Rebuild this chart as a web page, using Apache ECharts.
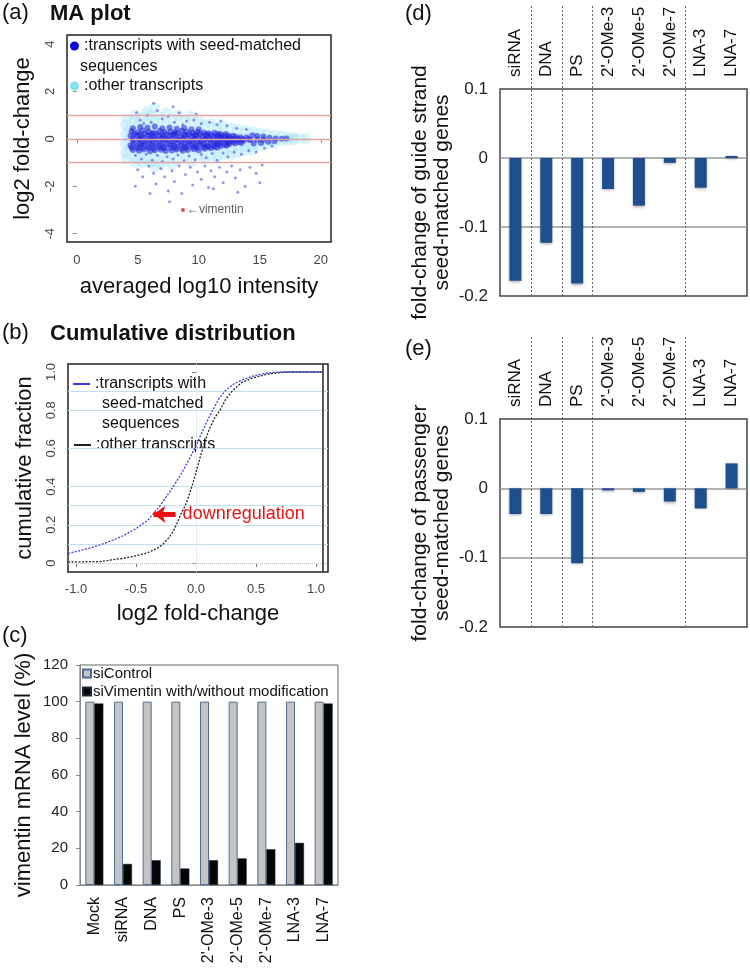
<!DOCTYPE html>
<html><head><meta charset="utf-8">
<script src="https://cdn.jsdelivr.net/npm/echarts@6/dist/echarts.min.js"></script>
<style>html,body{margin:0;padding:0;background:#fff}#c{width:750px;height:974px}</style>
</head><body><div id="c"></div>
<script>
const FONT = "'Liberation Sans', Arial, Helvetica, sans-serif";

// ---------- (a) MA plot ----------
const maOther = [
 [4.0,0.6],[4.0,0.2],[4.0,-0.2],[4.0,-0.6],[4.1,0.85],[4.1,-0.85],[4.3,0.4],[4.3,-0.4],[4.3,0.0],
 [4.7,0.8],[4.7,0.3],[4.7,-0.3],[4.7,-0.8],[4.8,1.0],[4.8,-1.0],[5.0,0.55],[5.0,-0.55],[5.0,0.05],
 [5.4,0.9],[5.4,0.4],[5.4,-0.1],[5.4,-0.6],[5.4,-1.0],[5.7,1.15],[5.7,0.65],[5.7,0.15],[5.7,-0.35],[5.7,-0.85],
 [6.1,1.0],[6.1,0.5],[6.1,0.0],[6.1,-0.5],[6.1,-1.0],[6.4,1.3],[6.4,0.75],[6.4,0.25],[6.4,-0.25],[6.4,-0.75],[6.4,-1.2],
 [6.9,0.9],[6.9,0.4],[6.9,-0.1],[6.9,-0.6],[6.9,-1.05],[7.3,1.1],[7.3,0.6],[7.3,0.1],[7.3,-0.4],[7.3,-0.9],
 [7.8,0.85],[7.8,0.35],[7.8,-0.15],[7.8,-0.65],[7.8,-1.1],[8.3,1.0],[8.3,0.55],[8.3,0.05],[8.3,-0.45],[8.3,-0.9],
 [8.9,0.8],[8.9,0.3],[8.9,-0.2],[8.9,-0.7],[9.4,0.95],[9.4,0.5],[9.4,0.0],[9.4,-0.5],[9.4,-0.95],
 [10.0,0.75],[10.0,0.25],[10.0,-0.25],[10.0,-0.7],[10.5,0.6],[10.5,0.1],[10.5,-0.4],[10.5,-0.85],
 [11.0,0.65],[11.0,0.2],[11.0,-0.3],[11.0,-0.7],[11.5,0.5],[11.5,0.05],[11.5,-0.4],[11.5,-0.8],
 [12.0,0.55],[12.0,0.15],[12.0,-0.3],[12.0,-0.65],[12.6,0.45],[12.6,0.0],[12.6,-0.4],[12.6,-0.7],
 [13.2,0.4],[13.2,0.05],[13.2,-0.3],[13.2,-0.6],[13.8,0.35],[13.8,0.0],[13.8,-0.3],[13.8,-0.5],
 [14.4,0.3],[14.4,0.0],[14.4,-0.25],[14.4,-0.45],[15.0,0.25],[15.0,-0.05],[15.0,-0.3],
 [15.6,0.2],[15.6,-0.05],[15.6,-0.22],[16.2,0.15],[16.2,-0.05],[16.2,-0.18],
 [16.8,0.12],[16.8,-0.08],[17.3,0.08],[17.3,-0.06],[17.8,0.05],[17.8,-0.03],[18.3,0.02],[18.8,0.0]
];
const maSeedCore = [
 [4.6,0.45],[5.2,0.5],[5.8,0.47],[6.4,0.52],[7.0,0.44],[7.6,0.48],[8.2,0.43],[8.8,0.46],[9.4,0.41],[10.0,0.4],
 [4.5,0.32],[5.0,0.28],[5.4,0.35],[5.9,0.30],[6.3,0.26],[6.8,0.33],[7.2,0.29],[7.7,0.31],[8.1,0.27],[8.6,0.34],
 [9.0,0.30],[9.5,0.25],[9.9,0.29],[10.4,0.27],[10.8,0.24],[11.3,0.26],[11.7,0.22],[12.2,0.2],
 [4.7,0.21],[5.2,0.19],[5.6,0.23],[6.1,0.2],[6.5,0.22],[7.0,0.18],[7.4,0.21],[7.9,0.2],[8.3,0.23],[8.8,0.19],
 [9.2,0.21],[9.7,0.18],[10.1,0.2],[10.6,0.19],[11.0,0.17],[11.5,0.18],[11.9,0.15],[12.4,0.14],[12.8,0.13],
 [4.4,0.12],[4.9,0.15],[5.3,0.10],[5.8,0.13],[6.2,0.11],[6.7,0.14],[7.1,0.09],[7.6,0.12],[8.0,0.16],[8.5,0.10],
 [8.9,0.13],[9.4,0.11],[9.8,0.14],[10.3,0.10],[10.7,0.12],[11.2,0.09],[11.6,0.11],[12.1,0.10],[12.5,0.08],[13.0,0.10],
 [13.4,0.07],[13.9,0.06],
 [4.6,0.02],[5.1,0.0],[5.5,0.03],[6.0,0.01],[6.4,-0.01],[6.9,0.02],[7.3,0.0],[7.8,0.03],[8.2,-0.01],[8.7,0.01],
 [9.1,0.02],[9.6,0.0],[10.0,0.01],[10.5,-0.01],[10.9,0.02],[11.4,0.0],[11.8,0.01],[12.3,-0.01],[12.7,0.0],[13.2,0.01],
 [13.6,-0.01],[14.1,0.0],
 [4.6,-0.08],[5.1,-0.05],[5.6,-0.10],[6.0,-0.07],[6.5,-0.04],[6.9,-0.09],[7.4,-0.06],[7.8,-0.10],[8.3,-0.05],[8.7,-0.08],
 [9.2,-0.11],[9.6,-0.06],[10.1,-0.09],[10.5,-0.04],[11.0,-0.07],[11.4,-0.10],[11.9,-0.05],[12.3,-0.08],[12.8,-0.06],[13.2,-0.04],
 [13.7,-0.07],[14.2,-0.05],[14.8,-0.03],[15.3,-0.04],
 [4.7,-0.18],[5.2,-0.2],[5.6,-0.17],[6.1,-0.19],[6.5,-0.21],[7.0,-0.18],[7.4,-0.2],[7.9,-0.17],[8.3,-0.19],[8.8,-0.21],
 [9.2,-0.18],[9.7,-0.2],[10.1,-0.17],[10.6,-0.19],[11.0,-0.16],[11.5,-0.18],[11.9,-0.15],[12.4,-0.16],[12.8,-0.14],[13.3,-0.13],
 [4.4,-0.28],[4.9,-0.30],[5.3,-0.25],[5.8,-0.31],[6.2,-0.27],[6.7,-0.29],[7.1,-0.33],[7.6,-0.26],[8.0,-0.30],[8.5,-0.28],
 [8.9,-0.32],[9.4,-0.27],[9.8,-0.29],[10.3,-0.25],[10.7,-0.30],[11.2,-0.27],[11.6,-0.24],[12.1,-0.26],[12.5,-0.22],[13.0,-0.20],
 [13.5,-0.18],
 [4.5,-0.38],[5.0,-0.4],[5.4,-0.37],[5.9,-0.39],[6.3,-0.41],[6.8,-0.38],[7.2,-0.4],[7.7,-0.37],[8.1,-0.39],[8.6,-0.41],
 [9.0,-0.38],[9.5,-0.36],[9.9,-0.38],[10.4,-0.35],[10.8,-0.34],[11.3,-0.33],[11.8,-0.3],[12.3,-0.29],
 [4.6,-0.47],[5.1,-0.50],[5.5,-0.45],[6.0,-0.52],[6.4,-0.48],[6.9,-0.46],[7.3,-0.51],[7.8,-0.49],[8.2,-0.45],[8.7,-0.50],
 [9.1,-0.47],[9.6,-0.44],[10.0,-0.48],[10.5,-0.42],[11.0,-0.40],[11.5,-0.38],
 [14.4,0.15],[14.8,0.12],[15.3,0.10],[15.8,0.05],[16.3,0.02],[16.8,0.0],[17.2,0.02],[14.5,-0.20],[15.1,-0.18],[15.7,-0.12],[16.2,-0.10]
];
const maSeedSparse = [
 [5.2,0.8],[5.8,1.0],[6.1,0.7],[6.6,1.2],[7.0,0.85],[7.5,0.95],[8.0,0.7],[8.4,1.1],[9.0,0.75],[9.6,0.8],
 [10.2,0.65],[10.9,0.7],[11.5,0.6],[12.3,0.55],[13.1,0.45],[13.9,0.4],[4.9,1.1],[6.3,1.5],[7.9,1.35],[9.8,1.05],
 [5.5,0.65],[8.7,0.6],[11.8,0.75],
 [4.8,-0.7],[5.3,-0.85],[5.7,-0.65],[6.2,-0.9],[6.6,-0.7],[7.0,-0.95],[7.4,-0.75],[7.9,-0.85],[8.3,-0.68],[8.8,-0.92],
 [9.2,-0.72],[9.7,-0.88],[10.2,-0.65],[10.6,-0.8],[11.1,-0.62],[11.5,-0.9],[12.0,-0.6],[12.4,-0.75],[12.9,-0.55],[13.5,-0.65],
 [14.1,-0.5],[14.7,-0.55],[15.4,-0.4],[16.0,-0.3],
 [5.0,-1.3],[5.4,-1.6],[5.9,-1.15],[6.3,-1.45],[6.5,-1.9],[6.9,-1.25],[7.2,-1.6],[7.5,-2.2],[7.8,-1.35],[8.0,-1.8],
 [8.4,-1.15],[8.6,-2.3],[8.9,-1.5],[9.3,-1.2],[9.5,-1.95],[9.9,-1.4],[10.2,-1.7],[10.5,-1.15],[10.8,-2.05],[11.0,-1.35],
 [11.3,-1.6],[11.7,-1.2],[12.0,-1.85],[12.3,-1.4],[12.7,-1.15],[13.0,-1.65],[13.4,-1.3],[13.8,-2.0],[14.2,-1.2],[14.7,-1.45],
 [15.2,-1.1],[6.0,-2.3],[7.6,-2.65],[11.2,-2.1],[13.2,-2.25],[4.8,-2.0],[15.0,-1.85]
];
const maVimentin = [[8.7, -3.0]];
const maRefLines = [1, 0, -1];
const maXTicks = [0, 5, 10, 15, 20];
const maYTicks = [-4, -2, 0, 2, 4];

// ---------- (b) cumulative distribution ----------
const cdfSeed = [
 [-1.067,0.05],[-0.9,0.075],[-0.8,0.095],[-0.7,0.118],[-0.6,0.145],[-0.5,0.18],[-0.4,0.225],[-0.36,0.255],
 [-0.3,0.30],[-0.25,0.345],[-0.19,0.40],[-0.12,0.47],[-0.06,0.54],[-0.01,0.60],[0.04,0.67],[0.09,0.74],
 [0.14,0.80],[0.19,0.86],[0.25,0.906],[0.32,0.94],[0.39,0.96],[0.48,0.98],[0.59,0.995],[0.7,1.0],[1.06,1.0]
];
const cdfOther = [
 [-1.067,0.005],[-0.8,0.008],[-0.6,0.025],[-0.5,0.038],[-0.41,0.052],[-0.33,0.075],[-0.28,0.095],[-0.23,0.13],
 [-0.19,0.165],[-0.15,0.22],[-0.12,0.265],[-0.09,0.30],[-0.06,0.35],[-0.025,0.42],[0.02,0.52],[0.06,0.61],
 [0.11,0.70],[0.16,0.765],[0.2,0.80],[0.25,0.86],[0.31,0.906],[0.38,0.945],[0.475,0.97],[0.6,0.99],[0.75,1.0],[1.06,1.0]
];
const cdfGridLines = [0.1, 0.2, 0.3, 0.4, 0.6, 0.8, 0.9];
const cdfXTicks = [-1, -0.5, 0, 0.5, 1];
const cdfYTicks = [0, 0.2, 0.4, 0.6, 0.8, 1];
const cdfArrowFrom = [-0.17, 0.255];
const cdfArrowTo = [-0.355, 0.255];
const cdfEnd = 1.06;

// ---------- (c) vimentin mRNA ----------
const vimCats = ['Mock', 'siRNA', 'DNA', 'PS', "2'-OMe-3", "2'-OMe-5", "2'-OMe-7", 'LNA-3', 'LNA-7'];
const siControl = [100, 100, 100, 100, 100, 100, 100, 100, 100];
const siVimentin = [99, 11.5, 13.5, 9, 13.5, 14.5, 19.5, 23, 99];

// ---------- (d),(e) seed-matched genes ----------
const modCats = ['siRNA', 'DNA', 'PS', "2'-OMe-3", "2'-OMe-5", "2'-OMe-7", 'LNA-3', 'LNA-7'];
const guideVals = [-0.178, -0.123, -0.182, -0.045, -0.069, -0.007, -0.043, 0.003];
const passengerVals = [-0.037, -0.037, -0.108, -0.003, -0.005, -0.019, -0.029, 0.036];
const groupBounds = [1, 2, 3, 6];
const barRefLines = [0, -0.1];

const chart = echarts.init(document.getElementById('c'), null, {renderer: 'canvas'});

const noLine = {show: false};
const fmt1 = v => (Math.abs(v) < 1e-9 ? '0' : v.toFixed(1));
const legendText = {
  seedMA: ':transcripts with seed-matched',
  otherMA: ':other transcripts',
  seedCDF: ':transcripts with',
  otherCDF: ':other transcripts',
  'siControl': 'siControl',
  'siVimentin': 'siVimentin with/without modification'
};
const legendFmt = n => legendText[n];

const baseTitle = (text, left, top, size, weight, extra) => Object.assign({
  text, left, top, padding: 0,
  textStyle: {fontSize: size, fontWeight: weight || 'normal', color: '#111', fontFamily: FONT}
}, extra || {});

const option = {
  animation: false,
  backgroundColor: '#fff',
  textStyle: {fontFamily: FONT},
  title: [
    baseTitle('(a)', 2, 2, 22),
    baseTitle('MA plot', 50, 3, 22, 'bold'),
    baseTitle('sequences', 80, 59, 16),
    baseTitle('(b)', 2, 322, 22),
    baseTitle('Cumulative distribution', 50, 323, 22, 'bold'),
    baseTitle('seed-matched\nsequences', 102, 394, 16, 'normal', {textStyle: {fontSize: 16, lineHeight: 20, color: '#111', fontWeight: 'normal', fontFamily: FONT}}),
    baseTitle('(c)', 2, 625, 22),
    baseTitle('(d)', 405, 3, 22),
    baseTitle('(e)', 405, 338, 22)
  ],
  legend: [
    {data: ['seedMA'], left: 70, top: 38, orient: 'vertical', icon: 'circle', itemWidth: 9, itemHeight: 9,
     selectedMode: false, formatter: legendFmt, padding: 0, itemStyle: {opacity: 1, color: '#0a0ae0'},
     textStyle: {fontSize: 16, color: '#111'}},
    {data: ['otherMA'], left: 70, top: 78, orient: 'vertical', icon: 'circle', itemWidth: 9, itemHeight: 9,
     selectedMode: false, formatter: legendFmt, padding: 0, itemStyle: {opacity: 1, color: '#86e2f2'},
     textStyle: {fontSize: 16, color: '#111'}},
    {data: ['seedCDF'], left: 73, top: 376, icon: 'rect', itemWidth: 17, itemHeight: 2,
     selectedMode: false, formatter: legendFmt, padding: 0,
     textStyle: {fontSize: 16, color: '#111'}},
    {data: ['otherCDF'], left: 74, top: 437, icon: 'rect', itemWidth: 17, itemHeight: 2,
     selectedMode: false, formatter: legendFmt, padding: 0,
     textStyle: {fontSize: 16, color: '#111'}},
    {data: ['siControl', 'siVimentin'], left: 82, top: 666, orient: 'vertical', icon: 'rect', itemWidth: 8, itemHeight: 8,
     itemGap: 3, selectedMode: false, formatter: legendFmt, padding: 0,
     textStyle: {fontSize: 15, color: '#111', padding: [0, 0, 0, -3]}}
  ],
  grid: [
    {left: 67, top: 35, width: 264, height: 207, show: true, borderColor: '#222', borderWidth: 1.5, backgroundColor: 'transparent', outerBoundsMode: 'none'},
    {left: 68, top: 364, width: 260, height: 208, show: true, borderColor: '#222', borderWidth: 1.5, backgroundColor: 'transparent', outerBoundsMode: 'none'},
    {left: 80, top: 665, width: 258, height: 220, show: true, borderColor: '#666', borderWidth: 1, backgroundColor: 'transparent', outerBoundsMode: 'none'},
    {left: 500, top: 89, width: 247, height: 207, show: true, borderColor: '#444', borderWidth: 1.5, backgroundColor: 'transparent', outerBoundsMode: 'none'},
    {left: 500, top: 5, width: 247, height: 291, outerBoundsMode: 'none'},
    {left: 500, top: 419, width: 247, height: 208, show: true, borderColor: '#444', borderWidth: 1.5, backgroundColor: 'transparent', outerBoundsMode: 'none'},
    {left: 500, top: 337, width: 247, height: 290, outerBoundsMode: 'none'}
  ],
  xAxis: [
    {gridIndex: 0, type: 'value', min: -0.8, max: 20.84, offset: 3,
     axisLine: {show: false},
     axisTick: {show: true, length: 4, customValues: maXTicks, lineStyle: {color: '#888'}},
     axisLabel: {customValues: maXTicks, fontSize: 13, color: '#444', margin: 9},
     splitLine: noLine,
     name: 'averaged log10 intensity', nameLocation: 'middle', nameGap: 31,
     nameTextStyle: {fontSize: 22, color: '#111'}},
    {gridIndex: 1, type: 'value', min: -1.067, max: 1.1, offset: 2,
     axisLine: {show: false},
     axisTick: {show: true, length: 4, customValues: cdfXTicks, lineStyle: {color: '#777'}},
     axisLabel: {customValues: cdfXTicks, fontSize: 13, color: '#444', margin: 9, formatter: v => v.toFixed(1)},
     splitLine: noLine,
     name: 'log2 fold-change', nameLocation: 'middle', nameGap: 29,
     nameTextStyle: {fontSize: 22, color: '#111'}},
    {gridIndex: 2, type: 'category', data: vimCats,
     axisLine: {show: true, lineStyle: {color: '#888'}},
     axisTick: {show: false},
     axisLabel: {rotate: 90, fontSize: 16, color: '#111', margin: 12, interval: 0}},
    {gridIndex: 3, type: 'category', data: modCats, position: 'top',
     axisLine: {show: false}, axisTick: {show: false},
     axisLabel: {rotate: 90, fontSize: 17, color: '#111', margin: 12, interval: 0}},
    {gridIndex: 4, type: 'value', min: 0, max: 8, show: false},
    {gridIndex: 5, type: 'category', data: modCats, position: 'top',
     axisLine: {show: false}, axisTick: {show: false},
     axisLabel: {rotate: 90, fontSize: 17, color: '#111', margin: 12, interval: 0}},
    {gridIndex: 6, type: 'value', min: 0, max: 8, show: false}
  ],
  yAxis: [
    {gridIndex: 0, type: 'value', min: -4.35, max: 4.38, offset: 3,
     axisLine: {show: false},
     axisTick: {show: true, length: 4, customValues: maYTicks, lineStyle: {color: '#888'}},
     axisLabel: {customValues: maYTicks, fontSize: 13, color: '#444', margin: 7, rotate: 90},
     splitLine: noLine,
     name: 'log2 fold-change', nameLocation: 'middle', nameGap: 30,
     nameTextStyle: {fontSize: 22, color: '#111'}},
    {gridIndex: 1, type: 'value', min: -0.047, max: 1.042, offset: 3,
     axisLine: {show: false},
     axisTick: {show: true, length: 4, customValues: cdfYTicks, lineStyle: {color: '#777'}},
     axisLabel: {customValues: cdfYTicks, fontSize: 13, color: '#444', margin: 7, rotate: 90, formatter: fmt1},
     splitLine: noLine,
     name: 'cumulative fraction', nameLocation: 'middle', nameGap: 29,
     nameTextStyle: {fontSize: 22, color: '#111'}},
    {gridIndex: 2, type: 'value', min: 0, max: 120, interval: 20,
     axisLine: {show: true, lineStyle: {color: '#888'}},
     axisTick: {show: true, length: 4, lineStyle: {color: '#888'}},
     axisLabel: {fontSize: 15, color: '#222', margin: 12},
     splitLine: noLine,
     name: 'vimentin mRNA level (%)', nameLocation: 'middle', nameGap: 45,
     nameTextStyle: {fontSize: 22, color: '#111'}},
    {gridIndex: 3, type: 'value', min: -0.2, max: 0.1, interval: 0.1,
     axisLine: {show: false}, axisTick: {show: false},
     axisLabel: {fontSize: 17, color: '#222', margin: 12, formatter: fmt1},
     splitLine: noLine,
     name: 'fold-change of guide strand\nseed-matched genes', nameLocation: 'middle', nameGap: 47,
     nameTextStyle: {fontSize: 21, lineHeight: 22, color: '#111'}},
    {gridIndex: 4, type: 'value', min: 0, max: 1, show: false},
    {gridIndex: 5, type: 'value', min: -0.2, max: 0.1, interval: 0.1,
     axisLine: {show: false}, axisTick: {show: false},
     axisLabel: {fontSize: 17, color: '#222', margin: 12, formatter: fmt1},
     splitLine: noLine,
     name: 'fold-change of passenger\nseed-matched genes', nameLocation: 'middle', nameGap: 47,
     nameTextStyle: {fontSize: 21, lineHeight: 22, color: '#111'}},
    {gridIndex: 6, type: 'value', min: 0, max: 1, show: false}
  ],
  series: [
    // (a)
    {name: 'otherMA', type: 'scatter', xAxisIndex: 0, yAxisIndex: 0, data: maOther, symbolSize: 11,
     itemStyle: {color: '#a8e4f5', opacity: 0.42}, silent: true, z: 2},
    {name: 'seedMA', type: 'scatter', xAxisIndex: 0, yAxisIndex: 0, data: maSeedCore, symbolSize: 6,
     itemStyle: {color: '#1c1cd8', opacity: 0.55}, silent: true, z: 3},
    {name: 'seedMA', type: 'scatter', xAxisIndex: 0, yAxisIndex: 0, data: maSeedSparse, symbolSize: 3,
     itemStyle: {color: '#3030e8', opacity: 0.5}, silent: true, z: 3,
     markLine: {silent: true, symbol: 'none', label: {show: false}, z: 5,
       lineStyle: {color: '#e6a4a4', type: 'solid', width: 1.4},
       data: maRefLines.map(v => ({yAxis: v}))}},
    {name: 'vimentin', type: 'scatter', xAxisIndex: 0, yAxisIndex: 0, data: maVimentin, symbolSize: 4,
     itemStyle: {color: '#e02020'}, silent: true, z: 4,
     label: {show: true, position: 'right', distance: 2, formatter: '←vimentin', fontSize: 12, color: '#333'}},
    // (b)
    {name: 'cdfGrid', type: 'line', xAxisIndex: 1, yAxisIndex: 1, data: [], silent: true,
     markLine: {silent: true, symbol: 'none', label: {show: false}, animation: false,
       data: cdfGridLines.map(v => ({yAxis: v, lineStyle: {color: '#bfe1ec', width: 1, type: 'solid'}}))
         .concat([{yAxis: 0, lineStyle: {color: '#bbb', width: 1, type: 'dotted'}},
                  {xAxis: 0, lineStyle: {color: '#e3eef2', width: 1, type: 'solid'}},
                  {xAxis: cdfEnd, lineStyle: {color: '#222', width: 1.5, type: 'solid'}}])}},
    {name: 'otherCDF', type: 'line', xAxisIndex: 1, yAxisIndex: 1, data: cdfOther, showSymbol: false,
     color: '#222', lineStyle: {color: '#222', width: 1.3, type: [2, 1.5]}, silent: true, z: 10},
    {name: 'seedCDF', type: 'line', xAxisIndex: 1, yAxisIndex: 1, data: cdfSeed, showSymbol: false,
     color: '#3b3be0', lineStyle: {color: '#3b3be0', width: 1.3, type: [2, 1.5]}, silent: true, z: 10,
     markLine: {silent: true, animation: false, z: 12,
       data: [[{coord: cdfArrowFrom, symbol: 'none'}, {coord: cdfArrowTo, symbol: 'arrow', symbolSize: [13, 12]}]],
       lineStyle: {color: '#f01010', width: 5, type: 'solid'},
       label: {show: true, position: 'start', formatter: 'downregulation', color: '#f01010', fontSize: 18, distance: 7}}},
    // (c)
    {name: 'siControl', type: 'bar', xAxisIndex: 2, yAxisIndex: 2, data: siControl, barWidth: 9, barGap: '0%',
     itemStyle: {color: '#c4c4c4', borderColor: '#4f6d96', borderWidth: 1}, silent: true},
    {name: 'siVimentin', type: 'bar', xAxisIndex: 2, yAxisIndex: 2, data: siVimentin, barWidth: 9, barGap: '0%',
     itemStyle: {color: '#050505', borderColor: '#1a2a3a', borderWidth: 0.5}, silent: true},
    // (d)
    {name: 'guide', type: 'bar', xAxisIndex: 3, yAxisIndex: 3, data: guideVals, barWidth: 12, z: 10,
     itemStyle: {color: '#1f4e8d', shadowBlur: 3, shadowColor: 'rgba(0,0,0,0.35)', shadowOffsetY: 1}, silent: true,
     markLine: {silent: true, symbol: 'none', label: {show: false}, z: 3,
       lineStyle: {color: '#999', width: 1.5, type: 'solid'}, data: barRefLines.map(v => ({yAxis: v}))}},
    {name: 'sepD', type: 'scatter', xAxisIndex: 4, yAxisIndex: 4, data: [], silent: true,
     markLine: {silent: true, symbol: 'none', label: {show: false},
       lineStyle: {color: '#666', width: 1, type: [2, 2]}, data: groupBounds.map(v => ({xAxis: v}))}},
    // (e)
    {name: 'passenger', type: 'bar', xAxisIndex: 5, yAxisIndex: 5, data: passengerVals, barWidth: 12, z: 10,
     itemStyle: {color: '#1f4e8d', shadowBlur: 3, shadowColor: 'rgba(0,0,0,0.35)', shadowOffsetY: 1}, silent: true,
     markLine: {silent: true, symbol: 'none', label: {show: false}, z: 3,
       lineStyle: {color: '#999', width: 1.5, type: 'solid'}, data: barRefLines.map(v => ({yAxis: v}))}},
    {name: 'sepE', type: 'scatter', xAxisIndex: 6, yAxisIndex: 6, data: [], silent: true,
     markLine: {silent: true, symbol: 'none', label: {show: false},
       lineStyle: {color: '#666', width: 1, type: [2, 2]}, data: groupBounds.map(v => ({xAxis: v}))}}
  ]
};
chart.setOption(option);
</script></body></html>
